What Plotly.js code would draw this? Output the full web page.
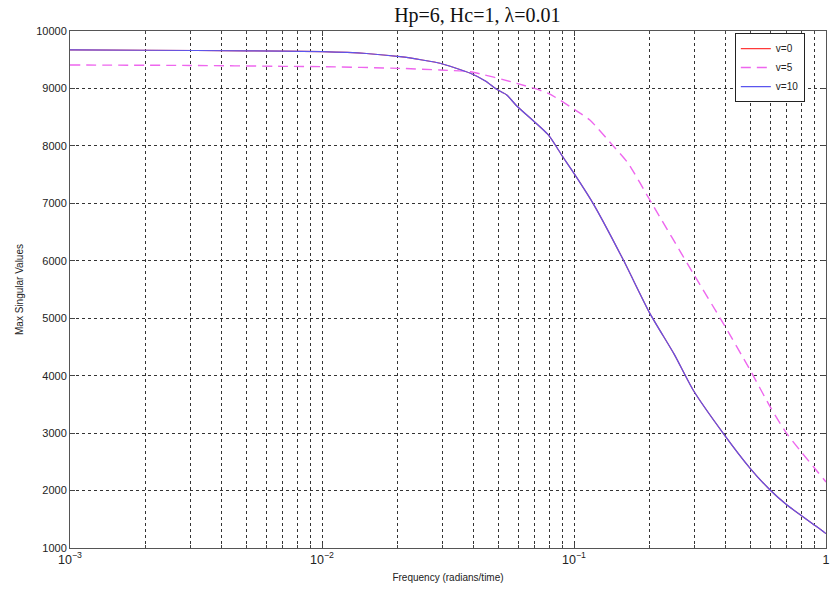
<!DOCTYPE html>
<html>
<head>
<meta charset="utf-8">
<script src="https://cdn.plot.ly/plotly-3.0.1.min.js"></script>
<style>html,body{margin:0;padding:0;background:#fff;}#chart{width:833px;height:591px;}</style>
</head>
<body>
<div id="chart"></div>
<script>
// Frequencies (radians/time) and max singular values
const freqLow = [0.001, 0.002, 0.005, 0.01, 0.015, 0.0204, 0.025, 0.0294, 0.0388, 0.0445, 0.0493, 0.0541, 0.0593, 0.0791, 0.0893, 0.1, 0.119, 0.157, 0.2, 0.25, 0.297, 0.391, 0.5, 0.6, 0.7, 0.92, 1.0];
const v0Values = [9670, 9665, 9655, 9640, 9608, 9553, 9495, 9438, 9264, 9130, 8985, 8886, 8694, 8190, 7841, 7522, 7000, 6013, 5085, 4370, 3750, 2996, 2387, 2009, 1748, 1370, 1250];
const v10Values = [9670, 9665, 9655, 9640, 9608, 9553, 9495, 9438, 9264, 9130, 8985, 8886, 8694, 8190, 7841, 7522, 7000, 6013, 5085, 4370, 3750, 2996, 2387, 2009, 1748, 1370, 1250];
const freqV5 = [0.001, 0.003, 0.007, 0.01, 0.0204, 0.0294, 0.0388, 0.0593, 0.0791, 0.1, 0.1156, 0.143, 0.164, 0.2, 0.297, 0.391, 0.5, 0.6, 0.698, 1.0];
const v5Values = [9408, 9400, 9385, 9379, 9350, 9321, 9290, 9089, 8915, 8637, 8450, 8000, 7697, 7058, 5782, 4911, 4098, 3460, 2996, 2150];
const seriesNames = ['v=0', 'v=5', 'v=10'];
const yTicks = [1000, 2000, 3000, 4000, 5000, 6000, 7000, 8000, 9000, 10000];

const traces = [
  {x: freqLow, y: v0Values, name: seriesNames[0], mode: 'lines', line: {color: '#ff3a3a', width: 1.2, shape: 'spline', smoothing: 0.6}},
  {x: freqV5, y: v5Values, name: seriesNames[1], mode: 'lines', line: {color: '#ee66ee', width: 1.4, dash: '10px,6px', shape: 'spline', smoothing: 0.6}},
  {x: freqLow, y: v10Values, name: seriesNames[2], mode: 'lines', line: {color: '#5a55ee', width: 1.2, shape: 'spline', smoothing: 0.6}}
];

const gridCol = '#333333';
const layout = {
  width: 833, height: 591,
  margin: {l: 70, r: 7, t: 31, b: 43},
  paper_bgcolor: '#ffffff', plot_bgcolor: '#ffffff',
  font: {family: 'Liberation Sans, Arial, sans-serif', size: 11, color: '#222'},
  title: {text: 'Hp=6, Hc=1, λ=0.01', font: {family: 'Liberation Serif, Times New Roman, serif', size: 20, color: '#111'},
          x: 0.573, xref: 'container', xanchor: 'center', y: 0.975, yref: 'container', yanchor: 'middle'},
  xaxis: {
    type: 'log', range: [-3, 0], dtick: 1, exponentformat: 'power',
    showgrid: true, gridcolor: gridCol, griddash: 'dot', gridwidth: 1,
    minor: {dtick: 'D1', showgrid: true, gridcolor: gridCol, griddash: 'dot', gridwidth: 1, ticks: 'inside', ticklen: 3, tickcolor: '#444'},
    ticks: 'inside', ticklen: 5, tickcolor: '#444',
    showline: true, linecolor: '#555', linewidth: 1, mirror: 'ticks',
    zeroline: false, tickfont: {size: 10, color: '#222'},
    title: {text: 'Frequency (radians/time)', font: {size: 10, color: '#222'}, standoff: 8}
  },
  yaxis: {
    range: [1000, 10000], tickvals: yTicks, ticktext: yTicks.map(String),
    showgrid: true, gridcolor: gridCol, griddash: 'dot', gridwidth: 1,
    ticks: 'inside', ticklen: 5, tickcolor: '#444',
    showline: true, linecolor: '#555', linewidth: 1, mirror: 'ticks',
    zeroline: false, tickfont: {size: 11, color: '#222'},
    title: {text: 'Max Singular Values', font: {size: 10, color: '#222'}, standoff: 10}
  },
  showlegend: true,
  legend: {x: 0.972, y: 0.996, xanchor: 'right', yanchor: 'top', bgcolor: '#ffffff', bordercolor: '#222', borderwidth: 1,
           font: {size: 10, color: '#222'}, tracegroupgap: 0, itemwidth: 30}
};

Plotly.newPlot('chart', traces, layout, {staticPlot: true, displayModeBar: false});
</script>
</body>
</html>
